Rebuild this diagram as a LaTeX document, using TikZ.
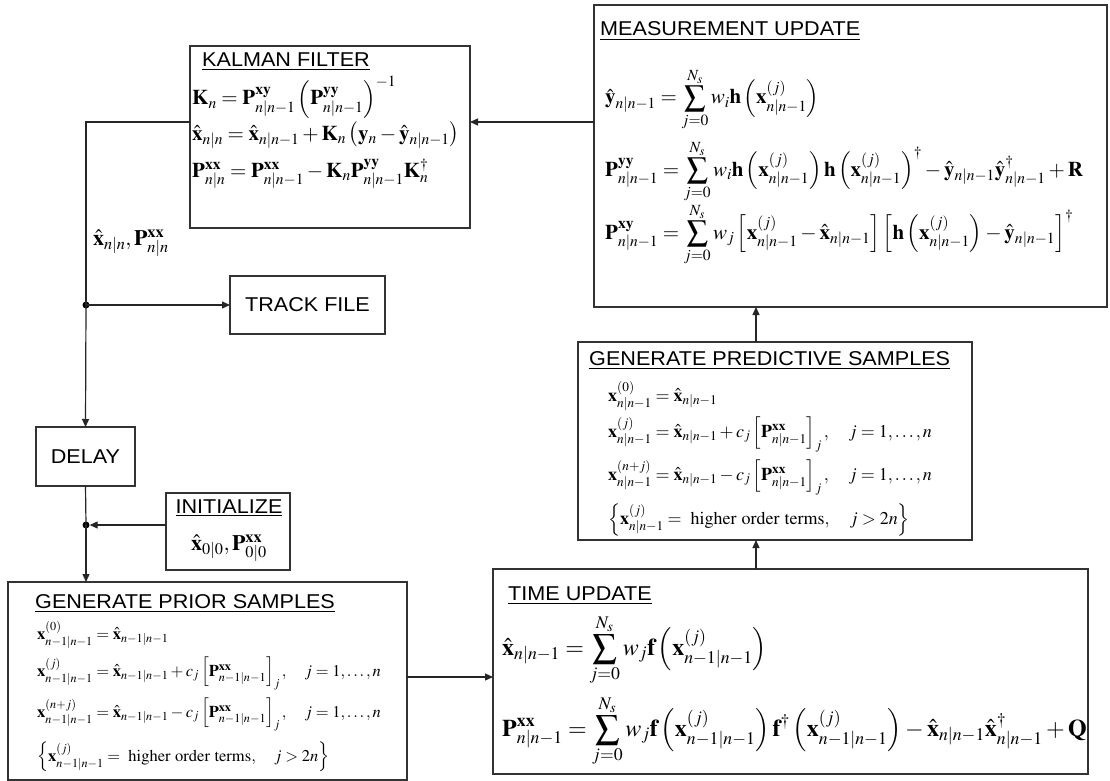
\documentclass[tikz,border=0pt]{standalone}
\usepackage{amsmath}
\usepackage{mathptmx}
\usepackage[no-math]{fontspec}
\setmainfont{Liberation Sans}
\newfontfamily\hdfont[FakeStretch=1.08]{Liberation Sans}
\usetikzlibrary{arrows.meta}
\newcommand{\vb}[1]{\mathbf{#1}}
\newcommand{\vh}[1]{\hat{\mathbf{#1}}}
\newcommand{\PX}{\mathbf{P}^{\mathbf{xx}}}
\newcommand{\PY}{\mathbf{P}^{\mathbf{yy}}}
\newcommand{\PXY}{\mathbf{P}^{\mathbf{xy}}}
\newcommand{\smm}{\sum_{j=0}^{N_s}}
\tikzset{
  box/.style={draw=black!80, line width=1.2pt, anchor=north west, inner sep=0pt, outer sep=0pt},
  conn/.style={draw=black!85, line width=1.2pt},
  arr/.style={conn, -{Triangle[length=8pt,width=7pt]}},
  hd/.style={anchor=base west, inner sep=0pt, font=\hdfont\fontsize{20}{24}\selectfont},
  eq/.style={anchor=base west, inner sep=0pt},
  eqs/.style={eq, font=\fontsize{16.5}{20}\selectfont},
  eqp/.style={eq, font=\fontsize{18}{21}\selectfont},
  eqm/.style={eq, font=\fontsize{21}{25}\selectfont},
  eql/.style={eq, font=\fontsize{24}{28}\selectfont},
  dot/.style={circle, fill=black, inner sep=0pt, minimum size=7pt},
  plain/.style={inner sep=0pt, font=\hdfont\fontsize{20}{24}\selectfont},
}
\begin{document}
\begin{tikzpicture}[x=1pt,y=-1pt]
\useasboundingbox[fill=white] (0,0) rectangle (1110,781);
% boxes
\node[box, minimum width=280pt, minimum height=182pt] (kf) at (190,46) {};
\node[box, minimum width=513pt, minimum height=302pt] (mu) at (594,5) {};
\node[box, minimum width=155pt, minimum height=58pt] (track) at (230,276) {};
\node[box, minimum width=99pt, minimum height=59pt] (delay) at (36,427) {};
\node[box, minimum width=124pt, minimum height=77pt] (init) at (166,493) {};
\node[box, minimum width=399pt, minimum height=198pt] (gps) at (8,582) {};
\node[box, minimum width=595pt, minimum height=205pt] (tu) at (493,569) {};
\node[box, minimum width=394pt, minimum height=198pt] (gprs) at (578,342) {};
% simple labels
\node[plain] (trackt) at (track.center) {TRACK FILE};
\node[plain] (delayt) at (delay.center) {DELAY};
\node[hd, anchor=base] (inith) at (229,513) {\underline{INITIALIZE}};
\node[eq, anchor=base, font=\fontsize{22}{26}\selectfont] (initm) at (229,550) {$\vh{x}_{0|0},\PX_{0|0}$};
% Kalman filter
\node[hd] (kfh) at (202,67) {\underline{KALMAN FILTER}};
\node[eqm] (kf1) at (192,105) {$\vb{K}_n=\PXY_{n|n-1}\left(\PY_{n|n-1}\right)^{-1}$};
\node[eqm] (kf2) at (192,140) {$\vh{x}_{n|n}=\vh{x}_{n|n-1}+\vb{K}_n\left(\vb{y}_n-\vh{y}_{n|n-1}\right)$};
\node[eqm] (kf3) at (192,177) {$\PX_{n|n}=\PX_{n|n-1}-\vb{K}_n\PY_{n|n-1}\vb{K}^{\dagger}_n$};
\node[eq, font=\fontsize{22}{26}\selectfont] (lbl) at (93,245) {$\vh{x}_{n|n},\PX_{n|n}$};
% measurement update
\node[hd] (muh) at (600,36) {\underline{MEASUREMENT UPDATE}};
\node[eqm] (mu1) at (605,104) {$\displaystyle \vh{y}_{n|n-1}=\smm w_i\vb{h}\left(\vb{x}^{(j)}_{n|n-1}\right)$};
\node[eqm] (mu2) at (605,176) {$\displaystyle \PY_{n|n-1}=\smm w_i\vb{h}\left(\vb{x}^{(j)}_{n|n-1}\right)\vb{h}\left(\vb{x}^{(j)}_{n|n-1}\right)^{\dagger}-\vh{y}_{n|n-1}\vh{y}^{\dagger}_{n|n-1}+\vb{R}$};
\node[eqm] (mu3) at (605,239) {$\displaystyle \PXY_{n|n-1}=\smm w_j\left[\vb{x}^{(j)}_{n|n-1}-\vh{x}_{n|n-1}\right]\left[\vb{h}\left(\vb{x}^{(j)}_{n|n-1}\right)-\vh{y}_{n|n-1}\right]^{\dagger}$};
% generate predictive samples
\node[hd] (gprsh) at (589,365) {\underline{GENERATE PREDICTIVE SAMPLES}};
\node[eqp] (gp1) at (608,401) {$\vb{x}^{(0)}_{n|n-1}=\vh{x}_{n|n-1}$};
\node[eqp] (gp2) at (608,437) {$\vb{x}^{(j)}_{n|n-1}=\vh{x}_{n|n-1}+c_j\left[\PX_{n|n-1}\right]_j,\quad j=1,\ldots,n$};
\node[eqp] (gp3) at (608,480) {$\vb{x}^{(n+j)}_{n|n-1}=\vh{x}_{n|n-1}-c_j\left[\PX_{n|n-1}\right]_j,\quad j=1,\ldots,n$};
\node[eqp] (gp4) at (608,524) {$\left\{\vb{x}^{(j)}_{n|n-1}=\ \mathrm{higher\ order\ terms},\quad j>2n\right\}$};
% generate prior samples
\node[hd] (gpsh) at (35,608) {\underline{GENERATE PRIOR SAMPLES}};
\node[eqs] (gs1) at (37,639) {$\vb{x}^{(0)}_{n-1|n-1}=\vh{x}_{n-1|n-1}$};
\node[eqs] (gs2) at (37,676) {$\vb{x}^{(j)}_{n-1|n-1}=\vh{x}_{n-1|n-1}+c_j\left[\PX_{n-1|n-1}\right]_j,\quad j=1,\ldots,n$};
\node[eqs] (gs3) at (37,717) {$\vb{x}^{(n+j)}_{n-1|n-1}=\vh{x}_{n-1|n-1}-c_j\left[\PX_{n-1|n-1}\right]_j,\quad j=1,\ldots,n$};
\node[eqs] (gs4) at (37,761) {$\left\{\vb{x}^{(j)}_{n-1|n-1}=\ \mathrm{higher\ order\ terms},\quad j>2n\right\}$};
% time update
\node[hd] (tuh) at (508,600) {\underline{TIME UPDATE}};
\node[eql] (tu1) at (502,655) {$\displaystyle \vh{x}_{n|n-1}=\smm w_j\vb{f}\left(\vb{x}^{(j)}_{n-1|n-1}\right)$};
\node[eql] (tu2) at (502,736) {$\displaystyle \PX_{n|n-1}=\smm w_j\vb{f}\left(\vb{x}^{(j)}_{n-1|n-1}\right)\vb{f}^{\dagger}\left(\vb{x}^{(j)}_{n-1|n-1}\right)-\vh{x}_{n|n-1}\vh{x}^{\dagger}_{n|n-1}+\vb{Q}$};
% connectors
\coordinate (kfc) at (86,122);
\coordinate (gy) at (450,677);
\coordinate (ux) at (756,555);
\node[dot] (d1) at (86,305) {};
\node[dot] (d2) at (86,525) {};
\draw[arr] (mu.west |- kfc) -- (kf.east |- kfc);
\draw[conn] (kf.west |- kfc) -- (kfc) -- (d1.center);
\draw[arr] (d1.center) -- (track.west |- d1);
\draw[arr] (d1.center) -- (delay.north);
\draw[conn] (delay.south) -- (d2.center);
\draw[arr] (d2.center) -- (d2 |- gps.north);
\draw[arr] (init.west |- d2) -- (d2.east);
\draw[arr] (gps.east |- gy) -- (tu.west |- gy);
\draw[arr] (tu.north -| ux) -- (gprs.south -| ux);
\draw[arr] (gprs.north -| ux) -- (mu.south -| ux);
\end{tikzpicture}
\end{document}
